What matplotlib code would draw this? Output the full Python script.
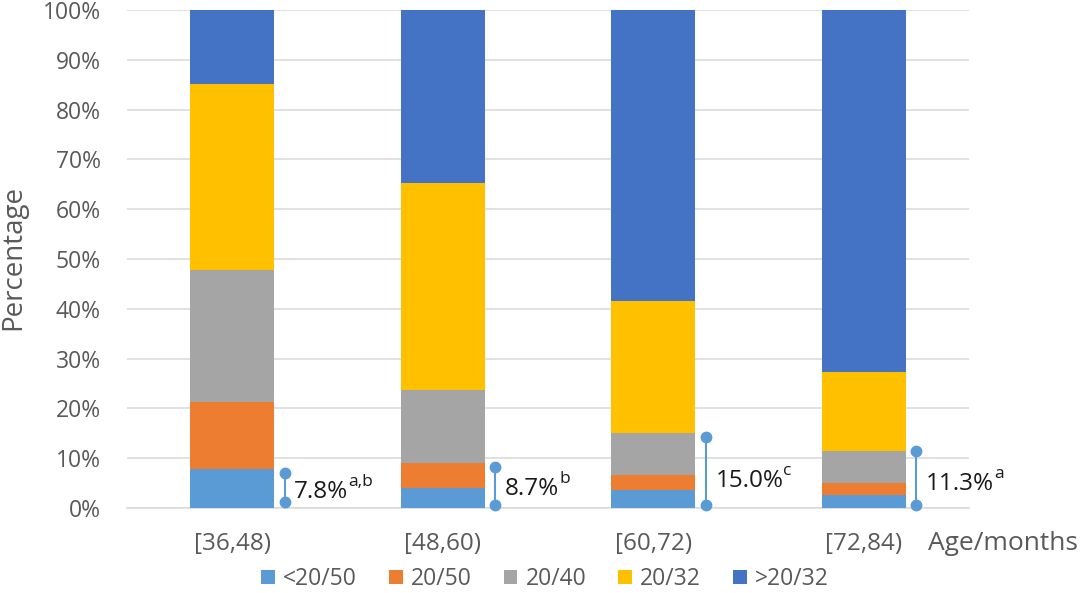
import numpy as np
import matplotlib
matplotlib.use("Agg")
import matplotlib.pyplot as plt

plt.rcParams['font.family'] = ['Open Sans', 'DejaVu Sans']

# data (percent)
age_groups = ['[36,48)', '[48,60)', '[60,72)', '[72,84)']
series_names = ['<20/50', '20/50', '20/40', '20/32', '>20/32']
lt_20_50 = [7.8, 4.1, 3.6, 2.6]
v_20_50 = [13.5, 4.9, 3.0, 2.4]
v_20_40 = [26.5, 14.7, 8.5, 6.5]
v_20_32 = [37.3, 41.6, 26.5, 15.8]
gt_20_32 = [100 - a - b - c - d for a, b, c, d in zip(lt_20_50, v_20_50, v_20_40, v_20_32)]
colors = ['#5B9BD5', '#ED7D31', '#A5A5A5', '#FFC000', '#4472C4']

# bracket annotations next to each bar
note_values = ['7.8%', '8.7%', '15.0%', '11.3%']
note_sup = ['a,b', 'b', 'c', 'a']
bracket_low = [1.3, 0.6, 0.6, 0.6]
bracket_high = [7.1, 8.2, 14.2, 11.4]
note_baseline = [2.0, 2.6, 4.2, 3.6]

text_col = '#595959'
grid_col = '#D9D9D9'

fig = plt.figure(figsize=(10.84, 5.93), dpi=100)
ax = fig.add_axes([127 / 1084, 1 - 508 / 593, 842 / 1084, 498 / 593])

x = np.arange(len(age_groups))
bottom = np.zeros(len(age_groups))
for name, vals, col in zip(series_names, [lt_20_50, v_20_50, v_20_40, v_20_32, gt_20_32], colors):
    ax.bar(x, vals, 0.4, bottom=bottom, color=col, label=name, zorder=3)
    bottom += np.array(vals)

for i in range(len(age_groups)):
    bx = x[i] + 0.2 + 0.05
    ax.plot([bx, bx], [bracket_low[i], bracket_high[i]], color='#5B9BD5', lw=1.5,
            marker='o', markersize=7.5, zorder=4, clip_on=False)
    t = ax.text(bx + 0.045, note_baseline[i], note_values[i], fontsize=17.5,
                color='#1a1a1a', va='baseline', ha='left')
    ax.annotate(note_sup[i], xy=(1, 0), xycoords=t, xytext=(0, 18),
                textcoords='offset pixels', fontsize=12.5, color='#1a1a1a',
                va='baseline', ha='left')

ax.set_xlim(-0.5, 3.5)
ax.set_ylim(0, 100)
ax.set_yticks(np.arange(0, 101, 10))
ax.set_yticklabels([f'{v}%' for v in range(0, 101, 10)])
ax.set_xticks(x)
ax.set_xticklabels(age_groups)
ax.tick_params(axis='both', length=0, labelcolor=text_col)
ax.tick_params(axis='y', pad=19, labelsize=16.5)
ax.tick_params(axis='x', pad=17, labelsize=17.5)
ax.grid(axis='y', color=grid_col, lw=1.1, zorder=0)
for s in ['top', 'right', 'left']:
    ax.spines[s].set_visible(False)
ax.spines['bottom'].set_color(grid_col)
ax.spines['bottom'].set_linewidth(1.1)

fig.text(13 / 1084, 1 - 258 / 593, 'Percentage', fontsize=20, color=text_col,
         rotation=90, ha='center', va='center')
fig.text(928 / 1084, 1 - 544 / 593, 'Age/months', fontsize=19, color=text_col,
         ha='left', va='center')

ax.legend(loc='center', bbox_to_anchor=(545 / 1084, 1 - 579 / 593), bbox_transform=fig.transFigure,
          ncol=5, frameon=False, fontsize=16.5, handlelength=0.59, handleheight=0.59,
          handletextpad=0.36, columnspacing=1.4, labelcolor=text_col, borderpad=0)

fig.savefig('out.png', dpi=100)
